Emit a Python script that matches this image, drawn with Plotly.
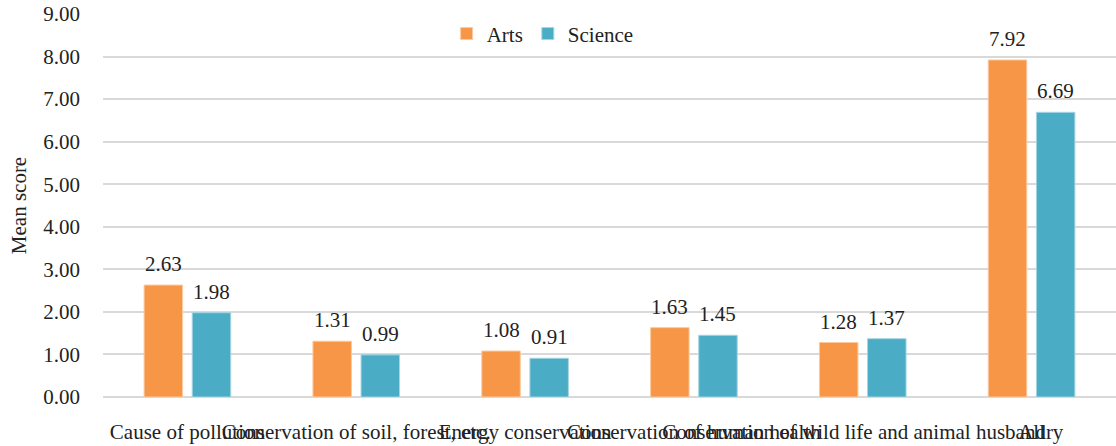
import plotly.graph_objects as go

categories = ["Cause of pollution", "Conservation of soil, forest, etc.", "Energy conservation",
              "Conservation of human health", "Conservation of wild life and animal husbandry", "All"]
arts = [2.63, 1.31, 1.08, 1.63, 1.28, 7.92]
science = [1.98, 0.99, 0.91, 1.45, 1.37, 6.69]
y_ticks = [0, 1, 2, 3, 4, 5, 6, 7, 8, 9]

FONT = "Liberation Serif"

fig = go.Figure()
fig.add_trace(go.Bar(name="Arts", x=categories, y=arts,
                     marker=dict(color="#F79646", line=dict(color="#FBC9A0", width=1))))
fig.add_trace(go.Bar(name="Science", x=categories, y=science,
                     marker=dict(color="#4BACC6", line=dict(color="#A5D5E2", width=1))))

for vals, xs in ((arts, -24), (science, 24)):
    for c, v in zip(categories, vals):
        fig.add_annotation(x=c, y=v, text=f"{v:.2f}", showarrow=False, xshift=xs, yshift=7,
                           yanchor="bottom", font=dict(family=FONT, size=21, color="#222"))

fig.update_layout(
    width=1116, height=446,
    margin=dict(l=103, r=0, t=14, b=49),
    paper_bgcolor="white", plot_bgcolor="white",
    font=dict(family=FONT, size=21, color="#222"),
    barmode="group", bargap=0.43, bargroupgap=0.2,
    showlegend=True,
    legend=dict(orientation="h", x=0.434, xanchor="center", y=0.948, yanchor="middle",
                font=dict(family=FONT, size=21), itemwidth=30, bgcolor="rgba(0,0,0,0)"),
)
fig.update_xaxes(tickangle=0, showgrid=False, showline=False, ticks="outside", ticklen=16,
                 tickcolor="rgba(0,0,0,0)", tickfont=dict(family=FONT, size=21), automargin=False)
fig.update_yaxes(range=[0, 9], tickvals=y_ticks, ticktext=[f"{v:.2f}" for v in y_ticks],
                 showgrid=True, gridcolor="#D9D9D9", gridwidth=2, zeroline=True, zerolinecolor="#D9D9D9",
                 zerolinewidth=2, showline=False, ticklabelstandoff=22,
                 tickfont=dict(family=FONT, size=21),
                 title=dict(text="Mean score", font=dict(family=FONT, size=21), standoff=10), automargin=False)

fig.write_html("out.html")
